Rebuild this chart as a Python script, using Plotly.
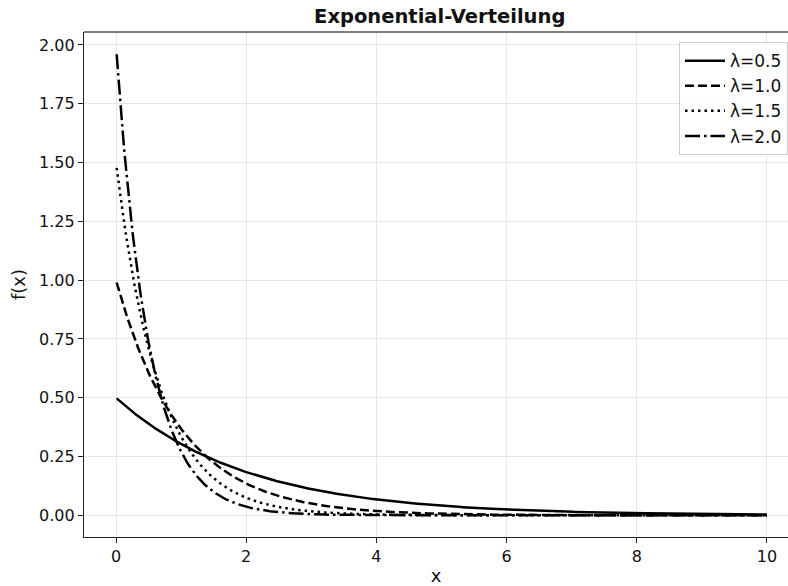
import numpy as np
import plotly.graph_objects as go

# Rate parameters of the plotted exponential densities
lambdas = [0.5, 1.0, 1.5, 2.0]
labels = ["λ=0.5", "λ=1.0", "λ=1.5", "λ=2.0"]
dashes = ["solid", "9px,4px", "2.5px,4px", "15px,4px,2.5px,4px"]

# Evaluation grid for the density f(x) = λ·exp(-λx)
x = np.linspace(0.01, 10, 1000)

fig = go.Figure()
for lam, name, dash in zip(lambdas, labels, dashes):
    fig.add_trace(go.Scatter(
        x=x, y=lam * np.exp(-lam * x), mode="lines", name=name,
        line=dict(color="black", width=2.5, dash=dash),
    ))

axis_style = dict(
    showgrid=True, gridcolor="#e6e6e6", gridwidth=1,
    showline=True, linecolor="#222", linewidth=1.2,
    ticks="outside", ticklen=5, tickcolor="#222", tickwidth=1.2,
    zeroline=False, tickfont=dict(size=16, color="#111"), automargin=False,
)

fig.update_layout(
    width=788, height=586,
    margin=dict(l=84, r=0, t=32, b=49),
    paper_bgcolor="white", plot_bgcolor="white",
    font=dict(family="DejaVu Sans", color="#111"),
    title=dict(text="<b>Exponential-Verteilung</b>", x=0.558, xanchor="center",
               y=0.972, yanchor="middle", font=dict(size=19.5)),
    xaxis=dict(range=[-0.4916, 10.323], tickvals=[0, 2, 4, 6, 8, 10],
               title=dict(text="x", font=dict(size=18), standoff=10), **axis_style),
    yaxis=dict(range=[-0.092, 2.055], tickvals=[0, 0.25, 0.5, 0.75, 1.0, 1.25, 1.5, 1.75, 2.0],
               tickformat=".2f",
               title=dict(text="f(x)", font=dict(size=18), standoff=8), **axis_style),
    legend=dict(x=1.0, xanchor="right", y=0.98, yanchor="top",
                bgcolor="rgba(255,255,255,0.85)", bordercolor="#cccccc", borderwidth=1,
                font=dict(size=17), tracegroupgap=0, itemwidth=40),
    showlegend=True,
)

# Top frame line of the axes box
fig.add_shape(type="line", xref="paper", yref="paper", x0=0, x1=1, y0=1, y1=1,
              line=dict(color="#555", width=1.5))

fig.write_html("out.html")
